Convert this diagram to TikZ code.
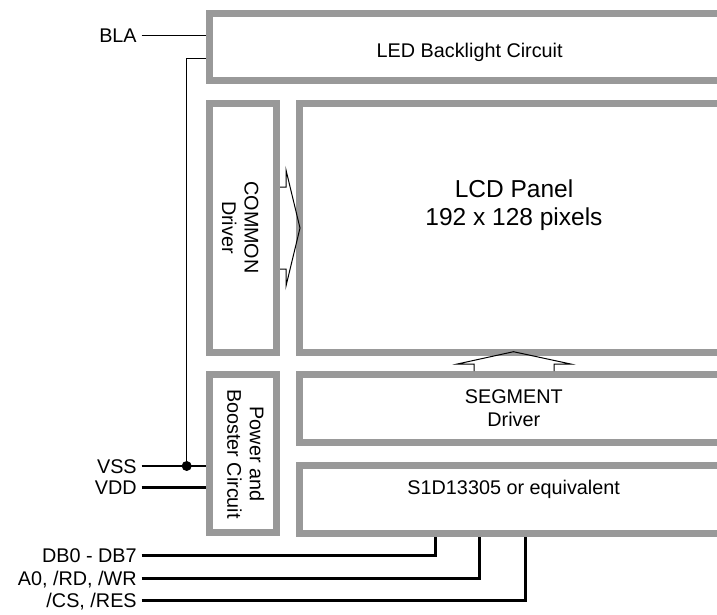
\documentclass[tikz,border=0pt]{standalone}
\usepackage{fontspec}
\setmainfont{Liberation Sans}
\usetikzlibrary{calc}
\definecolor{boxgray}{HTML}{999999}
\tikzset{
  blk/.style={draw=boxgray, line width=7pt, rectangle, inner sep=0pt, outer sep=3.5pt, anchor=north west},
  lbl/.style={font=\fontsize{19.8}{22.5}\selectfont, text height=14.2pt, text depth=0pt, inner sep=0pt, outer xsep=5pt, anchor=east},
  txt/.style={font=\fontsize{19.8}{22.5}\selectfont, align=center, inner sep=0pt},
  onetxt/.style={txt, text height=14.2pt, text depth=0pt},
  sig/.style={line width=1.3pt},
  bus/.style={line width=3pt},
  arr/.style={line width=1pt, line join=miter},
}
\begin{document}
\begin{tikzpicture}[x=1pt,y=-1pt]
\path[use as bounding box, fill=white] (0,0) rectangle (717,614);
\clip (0,0) rectangle (717,614);
% blocks
\node[blk, minimum width=554pt, minimum height=67pt] (led) at (206,10) {};
\node[blk, minimum width=67pt, minimum height=249pt] (com) at (206,100) {};
\node[blk, minimum width=460pt, minimum height=249pt] (lcd) at (295.5,100) {};
\node[blk, minimum width=67pt, minimum height=158pt] (pwr) at (206,371) {};
\node[blk, minimum width=460pt, minimum height=68pt] (seg) at (295.5,371) {};
\node[blk, minimum width=460pt, minimum height=68pt] (s1d) at (295.5,462) {};
% block texts
\node[onetxt] (ledtxt) at (469.7,50) {LED Backlight Circuit};
\node[txt, font=\fontsize{24.5}{27.7}\selectfont] (lcdtxt) at (514,204.9) {LCD Panel\\192 x 128 pixels};
\node[txt, rotate=-90] (comtxt) at (240.2,227.5) {COMMON\\Driver};
\node[txt, rotate=-90] (pwrtxt) at (245.8,454) {Power and\\Booster Circuit};
\node[txt] (segtxt) at (513.8,408) {SEGMENT\\Driver};
\node[onetxt] (s1dtxt) at (513.7,487.5) {S1D13305 or equivalent};
% signal labels
\node[lbl] (bla) at (141.7,35.5) {BLA};
\node[lbl] (vss) at (141.7,466) {VSS};
\node[lbl] (vdd) at (141.7,487.5) {VDD};
\node[lbl] (db) at (141.7,555) {DB0 - DB7};
\node[lbl] (ard) at (141.7,578.3) {A0, /RD, /WR};
\node[lbl] (cs) at (141.7,600.7) {/CS, /RES};
% connectors
\coordinate (j) at (186.7,466);
\draw[sig] (bla.east) -- (bla.east -| led.west);
\draw[sig] (vss.east) -- (vss.east -| pwr.west);
\draw[sig] (j) -- (186.7,58.3) -- (led.west |- 0,58.3);
\fill (j) circle (5);
\draw[bus] (vdd.east) -- (vdd.east -| pwr.west);
\draw[bus] (db.east) -| (435,0 |- s1d.south);
\draw[bus] (ard.east) -| (479,0 |- s1d.south);
\draw[bus] (cs.east) -| (525,0 |- s1d.south);
% hollow arrows
\draw[arr] ($(com.east)+(0,-41)$) -- ++(6,0) -- ++(0,-17) -- ($(com.east)+(20,0)$)
  -- ($(com.east)+(6,58)$) -- ++(0,-17) -- ++(-6,0);
\draw[arr] (474,0 |- seg.north) -- (474,364) -- (457.3,364) -- (513.5,351.7)
  -- (570.7,364) -- (554,364) -- (554,0 |- seg.north);
\end{tikzpicture}
\end{document}
